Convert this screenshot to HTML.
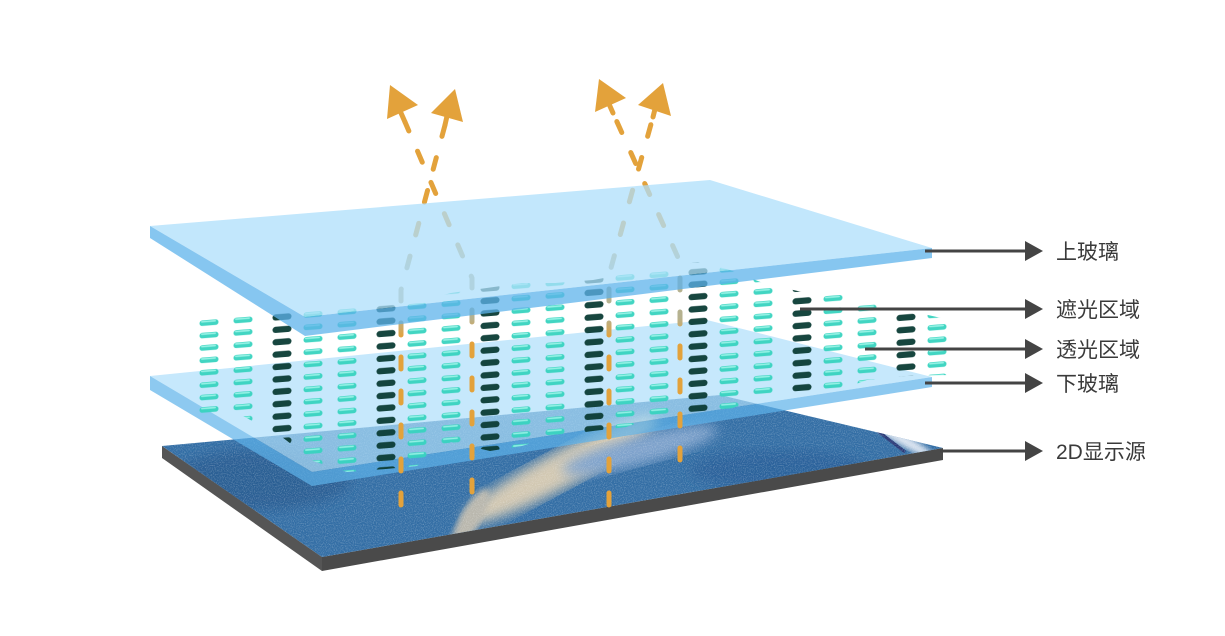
<!DOCTYPE html>
<html><head><meta charset="utf-8">
<style>
html,body{margin:0;padding:0;background:#fff;}
svg{display:block;}
text{font-family:"Liberation Sans","Noto Sans CJK SC",sans-serif;font-size:21px;fill:#3a3a3a;}
</style></head>
<body>
<svg width="1225" height="636" viewBox="0 0 1225 636" xmlns="http://www.w3.org/2000/svg">
<defs>
  <clipPath id="plateClip"><polygon points="162,446 720,395 943,448 322,557"/></clipPath>
  <filter id="noise" x="0" y="0" width="100%" height="100%">
    <feTurbulence type="fractalNoise" baseFrequency="0.9" numOctaves="2" seed="3" result="t"/>
    <feColorMatrix type="matrix" values="0 0 0 0 1  0 0 0 0 1  0 0 0 0 1  0 0 0 1.8 -0.8"/>
  </filter>
  <filter id="blur6"><feGaussianBlur stdDeviation="6"/></filter>
  <filter id="blur3"><feGaussianBlur stdDeviation="3"/></filter>
  <pattern id="dots" patternUnits="userSpaceOnUse" x="190" y="0" width="104" height="12.4" patternTransform="skewY(-4.5)">
    <rect x="9.5" y="1.5" width="19" height="5.6" rx="2.8" fill="#38d3bf"/>
    <rect x="11" y="2.1" width="15" height="1.6" rx="0.8" fill="#92f2e4"/>
    <rect x="43.5" y="1.5" width="19" height="5.6" rx="2.8" fill="#38d3bf"/>
    <rect x="45" y="2.1" width="15" height="1.6" rx="0.8" fill="#92f2e4"/>
    <rect x="82.5" y="1.3" width="19" height="6.2" rx="3.1" fill="#0b3c35"/>
  </pattern>
  <clipPath id="gridClip"><polygon points="196,319 243,316 313,309 347,308 417,302 451,293 522,283 555,283 593,280 659,268 698,262 730,270 763,283 802,292 834,293 867,302 906,310 950,320 950,375 906,376 867,380 834,392 802,394 763,397 730,409 698,413 659,416 626,427 593,431 555,436 522,446 490,451 451,442 417,466 386,469 347,472 313,461 282,437 243,416 196,416"/></clipPath>
  <linearGradient id="arrG" gradientUnits="userSpaceOnUse" x1="0" y1="0" x2="0" y2="636">
    <stop offset="0" stop-color="#e3a23b"/>
    <stop offset="0.36" stop-color="#e3a23b"/>
    <stop offset="0.42" stop-color="#b6b290"/>
    <stop offset="0.5" stop-color="#b6b290"/>
    <stop offset="0.53" stop-color="#e3a23b"/>
    <stop offset="1" stop-color="#e3a23b"/>
  </linearGradient>
</defs>

<!-- 2D display plate -->
<polygon points="162,446 322,557 322,571 162,458" fill="#555"/>
<polygon points="322,557 943,448 943,460 322,571" fill="#4a4a4a"/>
<g clip-path="url(#plateClip)">
  <rect x="150" y="380" width="800" height="190" fill="#336ea5"/>
  <ellipse cx="560" cy="470" rx="110" ry="18" transform="rotate(-28 560 470)" fill="#d2c8b2" filter="url(#blur6)"/>
  <ellipse cx="470" cy="520" rx="35" ry="10" transform="rotate(-60 470 520)" fill="#b9b7ad" filter="url(#blur3)"/>
  <ellipse cx="640" cy="450" rx="80" ry="14" transform="rotate(-15 640 450)" fill="#7fa3cc" filter="url(#blur6)"/>
  <ellipse cx="260" cy="480" rx="90" ry="30" fill="#2b5e94" filter="url(#blur6)"/>
  <ellipse cx="780" cy="470" rx="90" ry="20" fill="#2c629b" filter="url(#blur6)"/>
  <ellipse cx="900" cy="438" rx="40" ry="6" transform="rotate(30 900 438)" fill="#d9e3f0" filter="url(#blur3)"/>
  <line x1="870" y1="425" x2="905" y2="452" stroke="#2a3a78" stroke-width="3"/>
  <rect x="150" y="380" width="800" height="190" filter="url(#noise)" opacity="0.4"/>
</g>

<!-- lower glass -->
<g opacity="0.7">
  <polygon points="150,376 707,320 932,377 312,472" fill="#aedffb"/>
  <polygon points="150,376 312,472 312,486 150,390" fill="#5eb3eb"/>
  <polygon points="312,472 932,377 932,387 312,486" fill="#5eb3eb"/>
</g>

<!-- dot grid (above lower glass so it stays vivid) -->
<rect x="180" y="250" width="790" height="240" fill="url(#dots)" clip-path="url(#gridClip)" opacity="0.95"/>

<!-- arrows (dashed) -->
<g fill="none" stroke="url(#arrG)" stroke-width="5" stroke-linecap="round" stroke-dasharray="12 22">
  <polyline points="401,505 401,290 445,125"/>
  <polyline points="472,492 472,278 405,122"/>
  <polyline points="609,505 609,275 653,117"/>
  <polyline points="680,460 680,262 613,113"/>
</g>

<!-- top glass -->
<g opacity="0.75">
  <polygon points="150,226 710,180 932,248 305,317" fill="#aedffb"/>
  <polygon points="150,226 305,317 305,336 150,238" fill="#5eb3eb"/>
  <polygon points="305,317 932,248 932,258 305,336" fill="#5eb3eb"/>
</g>

<!-- arrowheads -->
<g fill="#e3a23b">
  <polygon points="390,85 387,119 418,105"/>
  <polygon points="455,89 431,113 463,122"/>
  <polygon points="599,79 595,112 626,98"/>
  <polygon points="663,83 638,105 671,116"/>
</g>
<g stroke="#e3a23b" stroke-width="5" stroke-linecap="round">
  <line x1="405" y1="122" x2="401" y2="113"/>
  <line x1="445" y1="125" x2="447" y2="116"/>
  <line x1="613" y1="113" x2="609" y2="104"/>
  <line x1="653" y1="117" x2="655" y2="109"/>
</g>

<!-- leader lines -->
<g stroke="#444" stroke-width="3">
  <line x1="925" y1="251" x2="1028" y2="251"/>
  <line x1="800" y1="309" x2="1028" y2="309"/>
  <line x1="865" y1="349" x2="1028" y2="349"/>
  <line x1="925" y1="383" x2="1028" y2="383"/>
  <line x1="940" y1="451" x2="1028" y2="451"/>
</g>
<g fill="#444">
  <polygon points="1025,241 1043,251 1025,261"/>
  <polygon points="1025,299 1043,309 1025,319"/>
  <polygon points="1025,339 1043,349 1025,359"/>
  <polygon points="1025,373 1043,383 1025,393"/>
  <polygon points="1025,441 1043,451 1025,461"/>
</g>
<text x="1056" y="259">上玻璃</text>
<text x="1056" y="317">遮光区域</text>
<text x="1056" y="357">透光区域</text>
<text x="1056" y="391">下玻璃</text>
<text x="1056" y="459">2D显示源</text>
</svg>
</body></html>
